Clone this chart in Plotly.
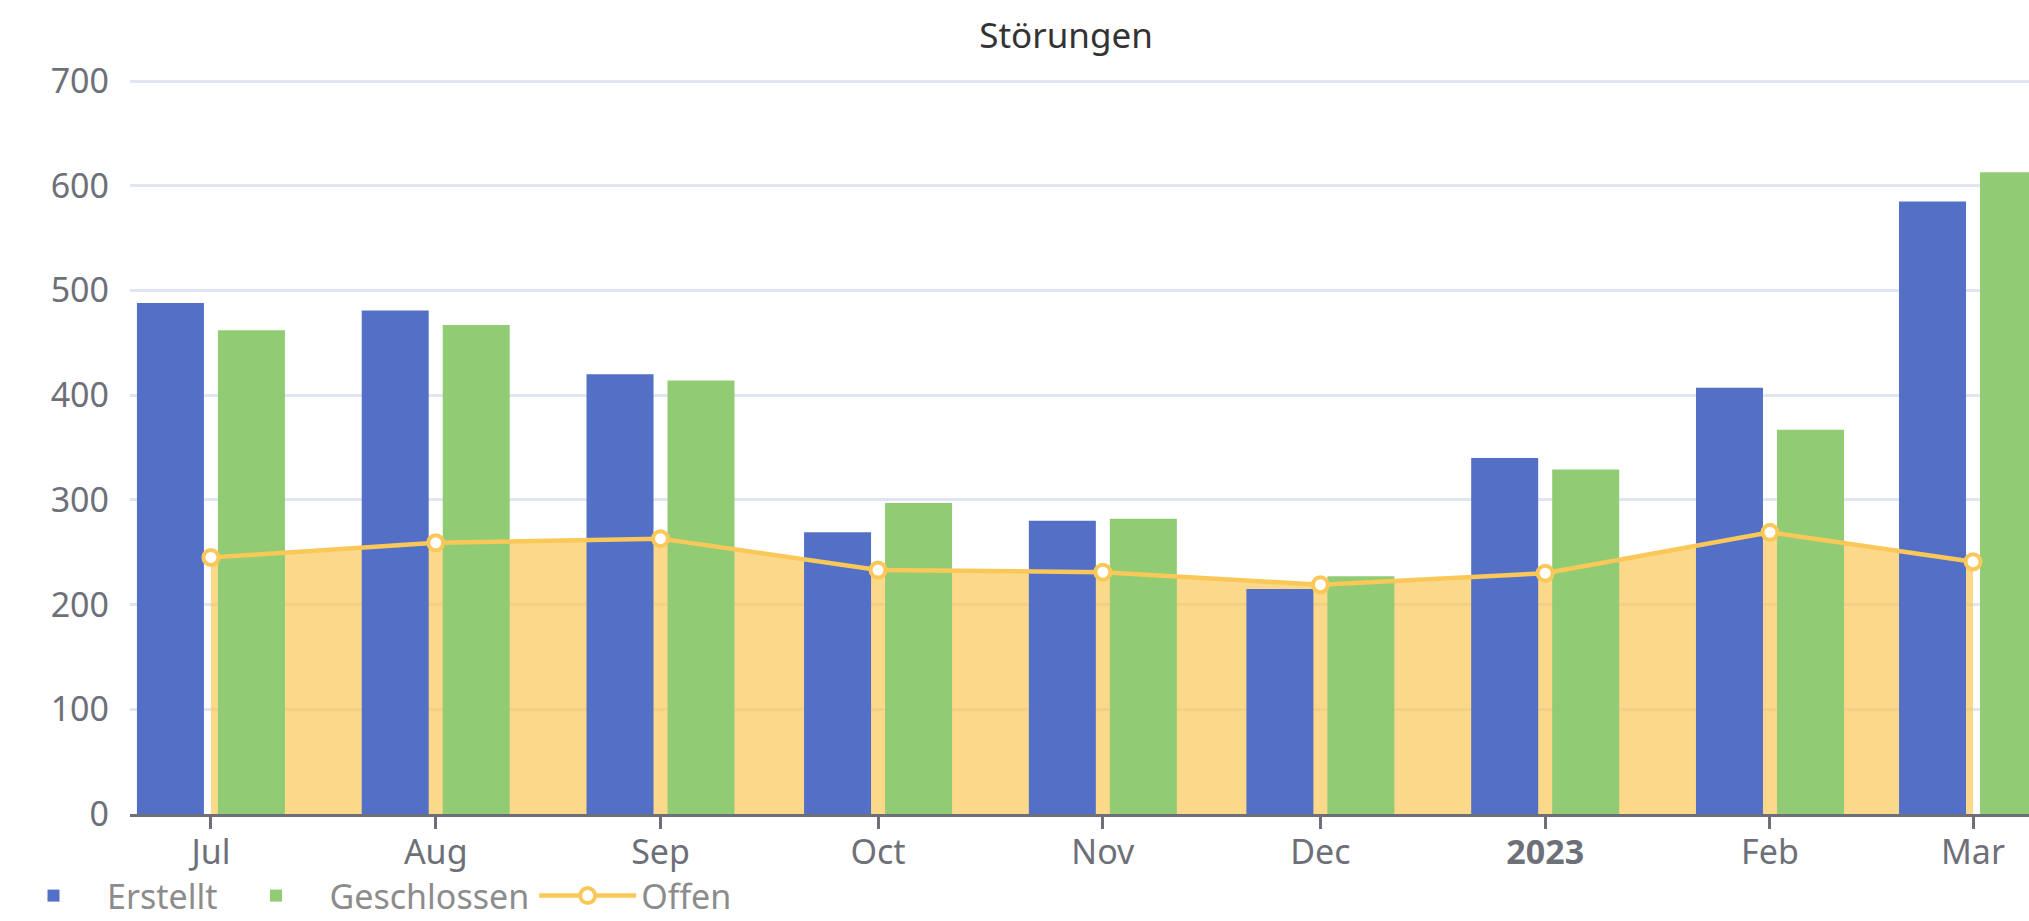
import pandas as pd
import plotly.graph_objects as go

# ---- data ----
months = ["2022-07-01", "2022-08-01", "2022-09-01", "2022-10-01", "2022-11-01",
          "2022-12-01", "2023-01-01", "2023-02-01", "2023-03-01"]
tick_labels = ["Jul", "Aug", "Sep", "Oct", "Nov", "Dec", "<b>2023</b>", "Feb", "Mar"]
erstellt = [488, 481, 420, 269, 280, 215, 340, 407, 585]
geschlossen = [462, 467, 414, 297, 282, 227, 329, 367, 613]
offen = [245, 259, 263, 233, 231, 219, 230, 269, 241]

# ---- styling ----
BLUE = "#5470c6"
GREEN = "#91cc75"
YELLOW = "#fac858"
AXIS = "#6e7079"
GRID = "#e0e6f1"
FONT = "Noto Sans"

dates = pd.to_datetime(months)
day_ms = 86400000.0
bar_w = 9.24 * day_ms
gap = 0.965 * day_ms

x_left = dates[0] - pd.Timedelta(days=11.16)
x_right = dates[-1] + pd.Timedelta(days=7.72)
xr = [x_left, x_right]
yr = [0, 702]

fig = go.Figure()

# area (base subplot, drawn beneath the bars)
fig.add_trace(go.Scatter(
    x=dates, y=offen, mode="lines", line=dict(width=0, color=YELLOW),
    fill="tozeroy", fillcolor="rgba(250,200,88,0.7)",
    showlegend=False, hoverinfo="skip", xaxis="x", yaxis="y"))

fig.add_trace(go.Bar(
    x=dates, y=erstellt, name="Erstellt", marker=dict(color=BLUE, line=dict(width=0)),
    width=bar_w, offset=-(bar_w + gap), xaxis="x2", yaxis="y2"))
fig.add_trace(go.Bar(
    x=dates, y=geschlossen, name="Geschlossen", marker=dict(color=GREEN, line=dict(width=0)),
    width=bar_w, offset=gap, xaxis="x2", yaxis="y2"))
fig.add_trace(go.Scatter(
    x=dates, y=offen, name="Offen", mode="lines+markers",
    line=dict(color=YELLOW, width=4.5),
    marker=dict(symbol="circle", size=15, color="white", line=dict(color=YELLOW, width=4)),
    xaxis="x2", yaxis="y2"))

fig.update_layout(
    width=2029, height=921,
    template="none",
    paper_bgcolor="white", plot_bgcolor="white",
    margin=dict(l=130, r=0, t=78.9, b=106.5, autoexpand=False),
    barmode="overlay",
    font=dict(family=FONT, size=34, color=AXIS),
    title=dict(text="Störungen", x=1066 / 2029, xref="container", xanchor="center",
               y=1 - 36 / 921, yref="container", yanchor="middle",
               font=dict(family=FONT, size=35, color="#333333")),
    xaxis=dict(type="date", range=xr, tickvals=dates, ticktext=tick_labels,
               showgrid=False, zeroline=False, showline=True, linecolor=AXIS, linewidth=3,
               ticks="outside", ticklen=12, tickwidth=2.5, tickcolor=AXIS,
               ticklabelstandoff=-6,
               tickfont=dict(family=FONT, size=34, color=AXIS)),
    yaxis=dict(range=yr, tickvals=[0, 100, 200, 300, 400, 500, 600, 700],
               showgrid=True, gridcolor=GRID, gridwidth=3,
               zeroline=False, showline=False, ticks="", ticklabelstandoff=20,
               tickfont=dict(family=FONT, size=34, color=AXIS)),
    xaxis2=dict(type="date", range=xr, overlaying="x", visible=False),
    yaxis2=dict(range=yr, overlaying="y", visible=False),
    legend=dict(orientation="h", x=0.0, xref="container", xanchor="left",
                y=1 - 867 / 921, yref="container", yanchor="top",
                font=dict(family=FONT, size=34, color="#8c8c8c"),
                itemwidth=97, bgcolor="rgba(0,0,0,0)"),
    showlegend=True,
)

fig.write_html("out.html", config={"displayModeBar": False},
               post_script="document.body.style.margin='0';document.body.style.overflow='hidden';")
